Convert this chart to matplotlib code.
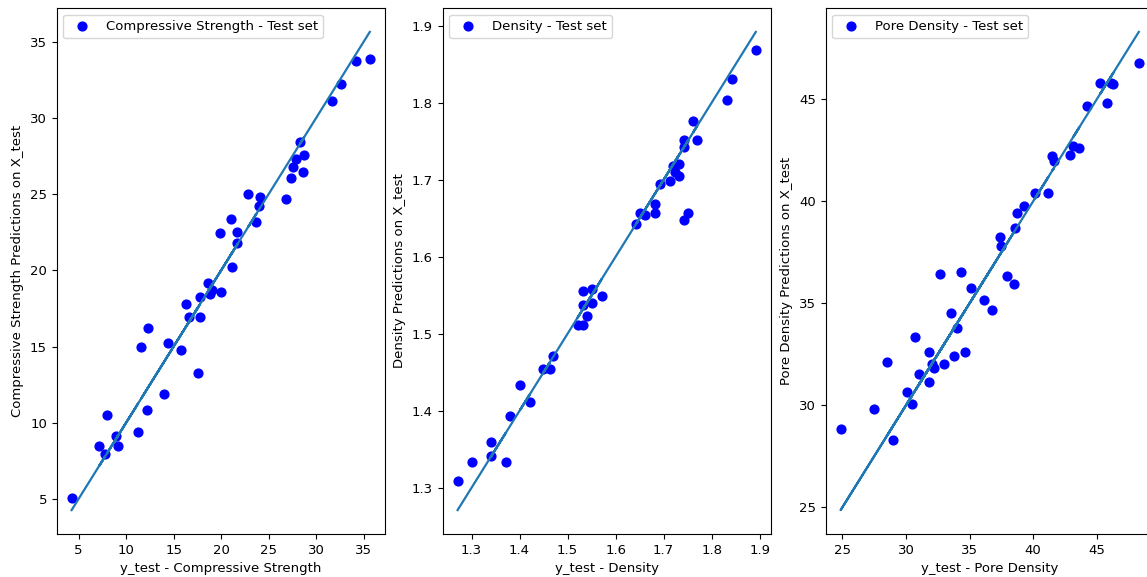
import matplotlib
matplotlib.use("Agg")
import matplotlib.pyplot as plt
import numpy as np

plt.rcParams["font.size"] = 9.5

# Panel 1: Compressive Strength
cs_test = [35.64, 34.23, 32.66, 31.69, 28.29, 28.71, 28.64, 27.87, 27.60, 27.35,
           26.79, 24.13, 23.99, 22.87, 23.71, 21.06, 21.72, 21.65, 19.90, 21.19,
           18.67, 19.09, 18.85, 19.97, 17.73, 16.30, 16.58, 17.73, 12.27, 11.58,
           14.37, 15.73, 17.56, 14.02, 12.20, 8.01, 11.26, 8.99, 9.17, 7.17,
           7.76, 4.27]
cs_pred = [33.85, 33.74, 32.25, 31.14, 28.45, 27.58, 26.42, 27.27, 26.79, 26.07,
           24.67, 24.84, 24.23, 25.00, 23.18, 23.36, 22.53, 21.80, 22.42, 20.23,
           19.20, 18.70, 18.44, 18.55, 18.22, 17.79, 16.97, 16.97, 16.19, 14.97,
           15.23, 14.79, 13.28, 11.90, 10.86, 10.50, 9.37, 9.10, 8.50, 8.50,
           7.97, 5.09]

# Panel 2: Density
d_test = [1.892, 1.843, 1.831, 1.762, 1.770, 1.742, 1.742, 1.732, 1.720, 1.723,
          1.732, 1.713, 1.693, 1.682, 1.682, 1.662, 1.651, 1.643, 1.751, 1.742,
          1.532, 1.550, 1.571, 1.532, 1.551, 1.540, 1.521, 1.532, 1.470, 1.449,
          1.463, 1.401, 1.421, 1.381, 1.340, 1.340, 1.371, 1.301, 1.271]
d_pred = [1.869, 1.831, 1.803, 1.776, 1.751, 1.752, 1.742, 1.720, 1.718, 1.710,
          1.705, 1.699, 1.694, 1.669, 1.657, 1.654, 1.657, 1.642, 1.657, 1.648,
          1.556, 1.558, 1.549, 1.537, 1.540, 1.523, 1.511, 1.511, 1.471, 1.454,
          1.454, 1.433, 1.412, 1.393, 1.360, 1.341, 1.334, 1.333, 1.309]

# Panel 3: Pore Density
p_test = [48.29, 45.26, 46.10, 46.30, 45.78, 44.22, 43.16, 43.61, 42.90, 41.49,
          41.60, 40.11, 41.18, 39.27, 38.75, 38.57, 37.39, 37.44, 32.71, 34.36,
          37.94, 38.46, 35.12, 36.16, 36.79, 33.57, 33.99, 30.69, 31.79, 34.62,
          33.76, 28.50, 32.06, 33.00, 32.19, 31.04, 31.79, 30.10, 30.44, 27.48,
          24.87, 28.95]
p_pred = [46.76, 45.78, 45.80, 45.74, 44.80, 44.67, 42.68, 42.59, 42.26, 42.23,
          41.99, 40.39, 40.39, 39.74, 39.41, 38.68, 38.24, 37.78, 36.42, 36.53,
          36.35, 35.96, 35.77, 35.16, 34.66, 34.53, 33.79, 33.34, 32.62, 32.62,
          32.43, 32.10, 32.03, 32.03, 31.84, 31.52, 31.13, 30.67, 30.07, 29.82,
          28.84, 28.32]

panels = [
    (cs_test, cs_pred, "Compressive Strength"),
    (d_test, d_pred, "Density"),
    (p_test, p_pred, "Pore Density"),
]

W, H = 1147, 577
fig = plt.figure(figsize=(W / 100, H / 100), dpi=100)
lefts = [56.7, 442.7, 825.7]
axw = 328.0
top = 8.0
bottom = 534.0

for (yt, yp, name), left in zip(panels, lefts):
    ax = fig.add_axes([left / W, (H - bottom) / H, axw / W, (bottom - top) / H])
    ax.scatter(yt, yp, color="blue", s=40, label=f"{name} - Test set")
    ax.plot(yt, yt, color="#1f77b4", linewidth=1.6)
    ax.set_xlabel(f"y_test - {name}")
    ax.set_ylabel(f"{name} Predictions on X_test")
    ax.legend(loc="upper left")

fig.savefig("out.png", dpi=100)
